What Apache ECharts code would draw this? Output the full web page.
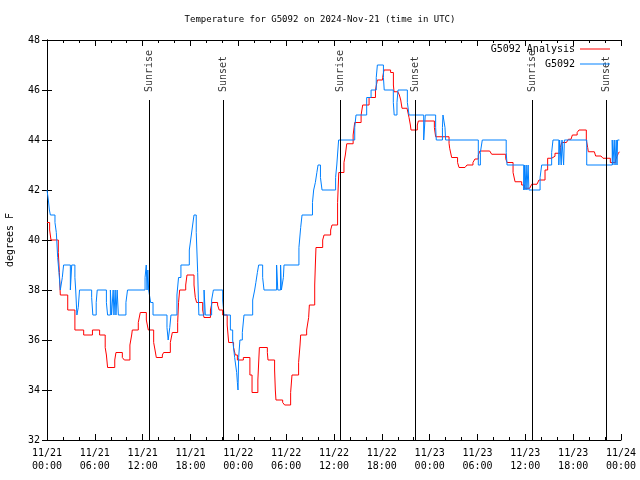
<!DOCTYPE html>
<html>
<head>
<meta charset="utf-8">
<script src="https://cdn.jsdelivr.net/npm/echarts@6/dist/echarts.min.js"></script>
<style>html,body{margin:0;padding:0;background:#fff}#c{width:640px;height:480px}</style>
</head>
<body>
<div id="c"></div>
<script>
// hours since 2024-11-21 00:00 UTC
const redHours = [0,0.33,0.5,1.42,1.55,1.67,2.6,3.5,4.6,5.7,6.6,7.3,7.45,7.6,8.5,8.65,9.45,9.7,10.4,10.62,10.7,11.45,11.7,12.46,12.71,13.38,13.55,13.71,14.47,14.63,15.47,15.72,16.39,16.5,16.64,17.4,17.56,18.44,18.6,18.77,19.53,19.69,20.5,20.7,21.4,21.6,22.04,22.6,22.79,23.4,23.62,23.88,24.63,25.45,25.72,26.45,26.64,27.64,27.72,28.55,28.64,28.72,29.56,29.81,30.56,30.73,31.56,31.74,31.82,32.57,32.82,32.91,33.58,33.66,33.74,34.58,34.75,35.58,35.75,36.45,36.6,37.25,37.42,37.6,38.4,38.6,39.4,39.6,40.4,41.2,41.44,42.1,42.27,43.1,43.45,43.53,44.0,44.2,44.37,44.53,45.16,45.41,45.58,45.66,46.45,46.58,48.59,48.75,50.43,50.51,50.76,51.5,51.68,52.43,52.68,53.43,53.68,54.1,54.3,55.53,55.78,57.54,57.71,58.46,58.71,59.54,59.88,60.55,60.8,61.46,61.71,62.47,62.8,63.3,63.72,64.39,64.56,65.15,65.4,65.73,65.9,66.5,66.73,67.65,67.82,67.9,68.66,68.82,69.49,69.74,70.66,71.33,71.5,71.67,71.8];
const redTemps = [40.7,40.4,40.0,39.5,38.7,37.8,37.2,36.4,36.2,36.4,36.2,35.7,35.4,34.9,35.2,35.5,35.3,35.2,35.8,36.2,36.4,36.7,37.1,36.8,36.4,35.9,35.6,35.3,35.4,35.5,35.9,36.3,36.7,37.5,38.0,38.2,38.6,38.2,37.7,37.5,37.2,36.9,37.2,37.5,37.4,37.2,37.0,36.6,35.9,35.7,35.4,35.2,35.3,34.6,33.9,34.4,35.7,35.5,35.2,34.8,34.0,33.6,33.5,33.4,33.9,34.6,35.1,35.8,36.2,36.4,36.9,37.4,38.2,39.0,39.7,40.0,40.2,40.4,40.6,41.5,42.7,43.1,43.4,43.85,44.2,44.7,45.0,45.4,45.7,46.0,46.4,46.5,46.8,46.7,46.2,45.93,45.9,45.8,45.6,45.27,45.2,44.9,44.6,44.4,44.6,44.76,44.5,44.13,43.87,43.67,43.3,43.1,42.9,42.95,43.0,43.1,43.24,43.4,43.56,43.5,43.43,43.25,43.1,42.7,42.33,42.2,42.07,42.15,42.23,42.3,42.4,42.8,43.27,43.35,43.47,43.7,43.9,43.95,44.03,44.1,44.2,44.3,44.4,44.0,43.7,43.53,43.45,43.36,43.3,43.27,43.1,43.2,43.35,43.47,43.53];

const blueHours = [0,0.17,0.3,0.42,1.0,1.17,1.34,1.5,1.67,1.92,2.08,2.93,3.1,3.5,3.6,3.75,3.92,4.08,5.6,5.75,6.17,6.3,7.45,7.6,7.95,8.1,8.3,8.4,8.55,8.65,8.8,8.95,9.9,10.1,12.3,12.45,12.55,12.65,12.75,13.0,13.3,15.05,15.2,15.4,15.55,16.3,16.5,16.8,17.85,18.02,18.27,18.44,18.72,18.9,19.05,19.7,19.86,20.65,20.87,22.04,22.2,23.0,23.29,23.54,23.79,23.88,23.96,24.04,24.2,24.5,24.71,25.8,26.05,26.2,26.39,26.55,27.05,27.22,28.8,28.95,29.3,29.4,29.65,29.73,31.6,31.82,31.99,33.3,33.45,33.66,33.85,34.0,34.3,34.5,36.2,36.35,36.58,38.6,38.76,40.1,40.65,41.3,41.44,42.2,42.3,43.44,43.55,43.9,44.03,45.2,45.41,47.25,47.45,48.75,48.83,49.6,49.67,49.92,50.0,54.1,54.36,54.6,57.6,57.71,59.8,59.88,59.96,60.1,60.2,60.35,60.45,61.85,62.05,63.3,63.47,64.2,64.3,64.5,64.6,64.8,64.9,67.7,70.9,70.98,71.15,71.25,71.4,71.5,71.57,71.8];
const blueTemps = [42,41.6,41.2,41,40.7,40.3,39.3,38.7,38,38.5,39,38,39,38.5,38,37,37.3,38,37.7,37,37.5,38,37.5,37,38,37,38,37,38,37,38,37,37.5,38,38.5,39,38,38.8,38,37.5,37,36.5,36,36.5,37,37.8,38.5,39,39.6,40,40.6,41,40.3,38.7,37,38,37,37.6,38,37.6,37,36.4,36,35.3,34.7,34.3,34.0,35.3,36,36.3,37,37.6,38,38.3,38.7,39,38.5,38,39,38,39,38,38.5,39,39.7,40.5,41,41.5,42,42.3,42.7,43,42.5,42,42.5,43,44,44.5,45,45.7,46,46.5,47,46.5,46,45.5,45,45.5,46,45.5,45,44,45,44.5,44,44.5,45,44.5,44,43,43.5,44,43.5,43,42,43,42,43,42,43,42,42.5,43,43.5,44,43,44,43,44,43,44,43,44,43,44,43,44,43,44,44];

const sunTimes = [12.84, 22.08, 36.75, 46.2, 60.88, 70.16];
const sunNames = ['Sunrise','Sunset','Sunrise','Sunset','Sunrise','Sunset'];
const yTicks = [32,34,36,38,40,42,44,46,48];
const xTickStep = 6;

const FONT = 'DejaVu Sans Mono';
const sunTop = 45.6;

function xLabel(h) {
  const day = 21 + Math.floor(h / 24);
  const hh = Math.round(h % 24);
  return '11/' + day + '\n' + (hh < 10 ? '0' : '') + hh + ':00';
}

const chart = echarts.init(document.getElementById('c'), null, {renderer: 'canvas'});
const axisLineStyle = {color: '#000', width: 1};
const option = {
  animation: false,
  backgroundColor: '#fff',
  title: {
    text: 'Temperature for G5092 on 2024-Nov-21 (time in UTC)',
    left: 'center', top: 15, padding: 0,
    textStyle: {fontFamily: FONT, fontSize: 9, fontWeight: 'normal', color: '#000'}
  },
  legend: {
    data: ['G5092 Analysis', 'G5092'],
    orient: 'vertical', right: 30, top: 44, align: 'right',
    itemWidth: 30, itemHeight: 1, itemGap: 5, icon: 'rect', padding: 0,
    textStyle: {fontFamily: FONT, fontSize: 10, color: '#000'}
  },
  grid: {left: 47, right: 19, top: 40, bottom: 40, containLabel: false, outerBoundsMode: 'none'},
  xAxis: [{
    type: 'value', min: 0, max: 72, interval: xTickStep, position: 'bottom',
    axisLine: {lineStyle: axisLineStyle},
    axisTick: {inside: true, length: 6, lineStyle: axisLineStyle},
    minorTick: {show: true, splitNumber: 3, length: 3, lineStyle: axisLineStyle},
    splitLine: {show: false},
    axisLabel: {formatter: xLabel, fontFamily: FONT, fontSize: 10, color: '#000', margin: 7, lineHeight: 13}
  }, {
    type: 'value', min: 0, max: 72, interval: xTickStep, position: 'top',
    axisLine: {lineStyle: axisLineStyle},
    axisTick: {inside: true, length: 6, lineStyle: axisLineStyle},
    minorTick: {show: true, splitNumber: 3, length: 3, lineStyle: axisLineStyle},
    splitLine: {show: false}, axisLabel: {show: false}
  }],
  yAxis: [{
    type: 'value', min: yTicks[0], max: yTicks[yTicks.length - 1], interval: yTicks[1] - yTicks[0],
    name: 'degrees F', nameLocation: 'middle', nameRotate: 90, nameGap: 32,
    nameTextStyle: {fontFamily: FONT, fontSize: 10, color: '#000'},
    axisLine: {lineStyle: axisLineStyle},
    axisTick: {inside: true, length: 5, lineStyle: axisLineStyle},
    splitLine: {show: false},
    axisLabel: {fontFamily: FONT, fontSize: 10, color: '#000', margin: 7}
  }, {
    type: 'value', min: yTicks[0], max: yTicks[yTicks.length - 1], interval: yTicks[1] - yTicks[0], position: 'right',
    axisLine: {lineStyle: axisLineStyle},
    axisTick: {inside: true, length: 5, lineStyle: axisLineStyle},
    splitLine: {show: false}, axisLabel: {show: false}
  }],
  series: [{
    name: 'sun', type: 'line', data: [], silent: true,
    markLine: {
      silent: true, symbol: ['none', 'none'],
      lineStyle: {color: '#000', width: 1, type: 'solid'},
      label: {show: false},
      data: sunTimes.map(t => [{coord: [t, yTicks[0]]}, {coord: [t, sunTop]}])
    }
  }, {
    name: 'sunLabels', type: 'scatter', symbolSize: 0, silent: true,
    data: sunTimes.map((t, i) => ({value: [t, sunTop], name: sunNames[i]})),
    label: {
      show: true, position: 'top', distance: 8, rotate: 90, align: 'left', verticalAlign: 'middle',
      formatter: p => p.name, fontFamily: FONT, fontSize: 10, color: '#000'
    }
  }, {
    name: 'G5092 Analysis', type: 'line', step: 'end', showSymbol: false, symbol: 'none',
    data: redHours.map((h, i) => [h, redTemps[i]]),
    lineStyle: {color: '#ff0000', width: 1}, itemStyle: {color: '#ff0000'}
  }, {
    name: 'G5092', type: 'line', step: 'end', showSymbol: false, symbol: 'none',
    data: blueHours.map((h, i) => [h, blueTemps[i]]),
    lineStyle: {color: '#0080ff', width: 1}, itemStyle: {color: '#0080ff'}
  }]
};
chart.setOption(option);
</script>
</body>
</html>
